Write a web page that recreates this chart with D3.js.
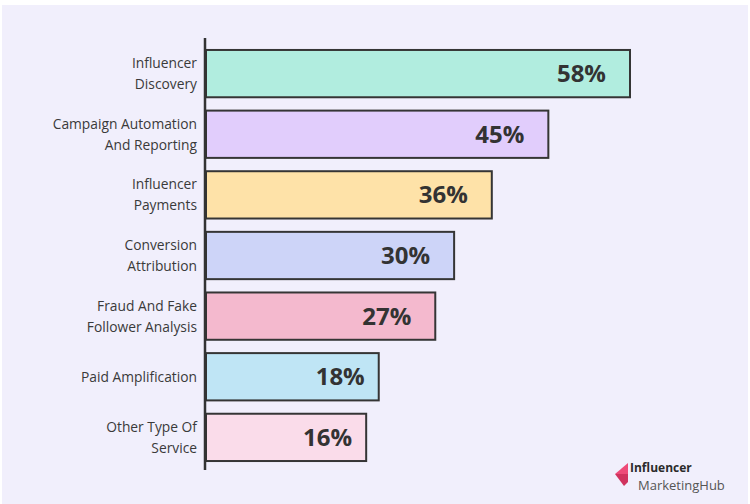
<!DOCTYPE html>
<html>
<head>
<meta charset="utf-8">
<script src="https://cdn.jsdelivr.net/npm/d3@7"></script>
<style>
  body { margin: 0; background: #fff; }
  svg { display: block; font-family: 'Open Sans', sans-serif; }
</style>
</head>
<body>
<div id="graf"></div>
<script>
// datos
servicios = [
  ['Influencer', 'Discovery'],
  ['Campaign Automation', 'And Reporting'],
  ['Influencer', 'Payments'],
  ['Conversion', 'Attribution'],
  ['Fraud And Fake', 'Follower Analysis'],
  ['Paid Amplification'],
  ['Other Type Of', 'Service']
]
porcentajes = [58, 45, 36, 30, 27, 18, 16]
colores = ['#b1eddf', '#e1cdfc', '#fee2a8', '#cdd4f8', '#f4b9ce', '#bfe5f5', '#fadcea']

datos = porcentajes.map((v, i) => ({ id: i, lineas: servicios[i], valor: v, color: colores[i] }))

// configuración
ancho_total = 750
alto_total = 504

svg = d3.select('#graf').append('svg')
        .attr('width', ancho_total)
        .attr('height', alto_total)

svg.append('rect')
   .attr('x', 2).attr('y', 5)
   .attr('width', 746).attr('height', 499)
   .attr('fill', '#f1effc')

x = d3.scaleLinear()
      .domain([-9.5, 58])
      .range([206, 630])

y = d3.scaleBand()
      .domain(datos.map(d => d.id))
      .range([43.3, 467.7])
      .paddingInner(0.22)
      .paddingOuter(0.11)

// barras
svg.selectAll('rect.barra')
   .data(datos)
   .enter()
   .append('rect')
     .attr('class', 'barra')
     .attr('x', x(-9.5))
     .attr('y', d => y(d.id))
     .attr('width', d => x(d.valor) - x(-9.5))
     .attr('height', y.bandwidth())
     .attr('fill', d => d.color)
     .attr('stroke', '#353535')
     .attr('stroke-width', 2)

// eje
svg.append('line')
   .attr('x1', 205).attr('x2', 205)
   .attr('y1', 38).attr('y2', 470)
   .attr('stroke', '#333')
   .attr('stroke-width', 2.5)

// etiquetas de categoría
etiquetas = svg.selectAll('text.cat')
   .data(datos)
   .enter()
   .append('text')
     .attr('class', 'cat')
     .attr('text-anchor', 'end')
     .attr('fill', '#3a3a3a')
     .style('font-size', '13.8px')

etiquetas.selectAll('tspan')
   .data(d => d.lineas.map((t, i) => ({ t, i, n: d.lineas.length, id: d.id })))
   .enter()
   .append('tspan')
     .attr('x', 197)
     .attr('y', d => y(d.id) + y.bandwidth() / 2 + (d.i - (d.n - 1) / 2) * 21 + 5)
     .text(d => d.t)

// valores
svg.selectAll('text.valor')
   .data(datos)
   .enter()
   .append('text')
     .attr('class', 'valor')
     .attr('x', d => x(d.valor) - (d.valor < 20 ? 14 : 24))
     .attr('y', d => y(d.id) + y.bandwidth() / 2 + 8.5)
     .attr('text-anchor', 'end')
     .attr('fill', '#333')
     .style('font-size', '24px')
     .style('font-weight', 'bold')
     .text(d => d.valor + '%')

// logo
logo = svg.append('g').attr('transform', 'translate(614, 462)')
logo.append('path')
    .attr('d', 'M14,1 L1,12 L14,12 Z')
    .attr('fill', '#ee4a78')
logo.append('path')
    .attr('d', 'M1,12 L14,12 L14,20 L10,24 Z')
    .attr('fill', '#d0325e')
logo.append('text')
    .attr('x', 16).attr('y', 10)
    .attr('fill', '#2b2b2b')
    .style('font-size', '12px')
    .style('font-weight', 'bold')
    .text('Influencer')
logo.append('text')
    .attr('x', 24).attr('y', 28)
    .attr('fill', '#555')
    .style('font-size', '13px')
    .text('MarketingHub')
</script>
</body>
</html>
